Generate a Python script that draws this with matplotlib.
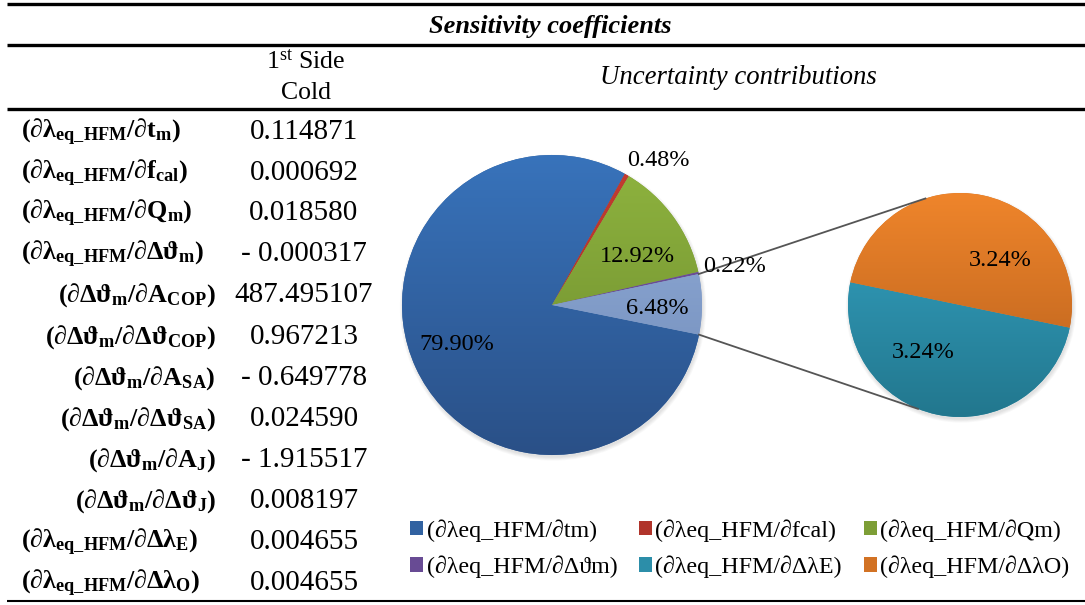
import numpy as np
import matplotlib
matplotlib.use("Agg")
import matplotlib.pyplot as plt
from matplotlib.patches import Patch, Circle
from matplotlib.colors import to_rgb

plt.rcParams['font.family'] = ['Liberation Serif', 'DejaVu Serif']
plt.rcParams['mathtext.fontset'] = 'custom'
plt.rcParams['mathtext.rm'] = 'Liberation Serif'
plt.rcParams['mathtext.it'] = 'Liberation Serif:italic'
plt.rcParams['mathtext.bf'] = 'Liberation Serif:bold'

W, H = 1085, 605

# sensitivity coefficients, 1st side cold
coef_labels = [
    r'$\mathbf{(\partial\lambda_{eq\_HFM}/\partial t_{m})}$',
    r'$\mathbf{(\partial\lambda_{eq\_HFM}/\partial f_{cal})}$',
    r'$\mathbf{(\partial\lambda_{eq\_HFM}/\partial Q_{m})}$',
    r'$\mathbf{(\partial\lambda_{eq\_HFM}/\partial\Delta\vartheta_{m})}$',
    r'$\mathbf{(\partial\Delta\vartheta_{m}/\partial A_{COP})}$',
    r'$\mathbf{(\partial\Delta\vartheta_{m}/\partial\Delta\vartheta_{COP})}$',
    r'$\mathbf{(\partial\Delta\vartheta_{m}/\partial A_{SA})}$',
    r'$\mathbf{(\partial\Delta\vartheta_{m}/\partial\Delta\vartheta_{SA})}$',
    r'$\mathbf{(\partial\Delta\vartheta_{m}/\partial A_{J})}$',
    r'$\mathbf{(\partial\Delta\vartheta_{m}/\partial\Delta\vartheta_{J})}$',
    r'$\mathbf{(\partial\lambda_{eq\_HFM}/\partial\Delta\lambda_{E})}$',
    r'$\mathbf{(\partial\lambda_{eq\_HFM}/\partial\Delta\lambda_{O})}$',
]
coef_values = [0.114871, 0.000692, 0.018580, -0.000317, 487.495107, 0.967213,
               -0.649778, 0.024590, -1.915517, 0.008197, 0.004655, 0.004655]
# the Δϑ sub-coefficients are indented (right aligned)
coef_indent = [False] * 4 + [True] * 6 + [False] * 2

# uncertainty contributions (%)
contrib_names = ['(∂λeq_HFM/∂tm)', '(∂λeq_HFM/∂fcal)', '(∂λeq_HFM/∂Qm)',
                 '(∂λeq_HFM/∂Δϑm)', '(∂λeq_HFM/∂ΔλE)', '(∂λeq_HFM/∂ΔλO)']
contrib_pct = [79.90, 0.48, 12.92, 0.22, 3.24, 3.24]

# (top, bottom) gradient colours per contribution
shades = [('#3873bb', '#2a5087'), ('#c43d32', '#9c2b24'), ('#8fb43f', '#6a882c'),
          ('#7656a6', '#5a3f82'), ('#35a4c4', '#22778e'), ('#ef852b', '#b45e1c')]
other_shade = ('#95b0dd', '#6d88b4')


def Y(y):
    # image rows run downwards, axes y runs upwards
    return H - y


def mix(a, b):
    a, b = np.array(to_rgb(a)), np.array(to_rgb(b))
    return tuple((a + b) / 2)


def shade(ax, wedge, cx, cy, r, top, bottom):
    t = np.linspace(0, 1, 256)[:, None]
    c0, c1 = np.array(to_rgb(top)), np.array(to_rgb(bottom))
    img = (c0 * (1 - t) + c1 * t)[:, None, :]
    im = ax.imshow(img, extent=(cx - r, cx + r, cy - r, cy + r), origin='upper',
                   aspect='auto', interpolation='bilinear', zorder=2)
    im.set_clip_path(wedge)


def soft_shadow(ax, cx, cy, r):
    for k in range(5):
        ax.add_patch(Circle((cx + 1, cy - 2.5), r + k * 0.8, color='black',
                            alpha=0.025, lw=0, zorder=1))


fig = plt.figure(figsize=(W / 100, H / 100), dpi=100)
ax = fig.add_axes([0, 0, 1, 1])

# table rules
for y, lw in [(3.5, 2.4), (44.5, 2.4), (108.5, 2.4), (601, 1.5)]:
    ax.plot([7, W], [Y(y), Y(y)], color='black', lw=lw, solid_capstyle='butt')

ax.text(550, Y(26), 'Sensitivity coefficients', ha='center', va='center',
        fontsize=19, fontweight='bold', fontstyle='italic')
ax.text(306, Y(62), r'1$^{\mathrm{st}}$ Side', ha='center', va='center', fontsize=18.5)
ax.text(306, Y(93), 'Cold', ha='center', va='center', fontsize=18.5)
ax.text(738, Y(77), 'Uncertainty contributions', ha='center', va='center',
        fontsize=19.3, fontstyle='italic')

row_y = [132, 173, 213, 254, 295, 337, 378, 419, 460, 501, 542, 583]
for lab, val, ind, y in zip(coef_labels, coef_values, coef_indent, row_y):
    if ind:
        ax.text(216, Y(y), lab, ha='right', va='center', fontsize=18.8)
    else:
        ax.text(21, Y(y), lab, ha='left', va='center', fontsize=18.8)
    s = f'- {abs(val):.6f}' if val < 0 else f'{val:.6f}'
    ax.text(304, Y(y), s, ha='center', va='center', fontsize=21)

# main pie: the two ΔλE / ΔλO contributions are grouped as one slice
main_vals = contrib_pct[:4] + [sum(contrib_pct[4:])]
main_shades = shades[:4] + [other_shade]
mc, mr = (552, Y(305)), 150
soft_shadow(ax, mc[0], mc[1], mr)
main_wedges, _ = ax.pie(main_vals, colors=[mix(*s) for s in main_shades],
                        startangle=-11.4, counterclock=False, center=mc, radius=mr,
                        wedgeprops=dict(linewidth=0), frame=True)
for w, s in zip(main_wedges, main_shades):
    shade(ax, w, mc[0], mc[1], mr, *s)

# secondary pie with the split of the grouped slice
sc, sr = (960, Y(305)), 112
soft_shadow(ax, sc[0], sc[1], sr)
sec_wedges, _ = ax.pie(contrib_pct[4:], colors=[mix(*s) for s in shades[4:]],
                       startangle=168.3, counterclock=True, center=sc, radius=sr,
                       wedgeprops=dict(linewidth=0), frame=True)
for w, s in zip(sec_wedges, shades[4:]):
    shade(ax, w, sc[0], sc[1], sr, *s)

# connector lines between the grouped slice and the secondary pie
ow = main_wedges[-1]
for th_main, th_sec in [(ow.theta2, 108), (ow.theta1, 248)]:
    a, b = np.radians(th_main), np.radians(th_sec)
    ax.plot([mc[0] + mr * np.cos(a), sc[0] + sr * np.cos(b)],
            [mc[1] + mr * np.sin(a), sc[1] + sr * np.sin(b)],
            color='#555555', lw=1.3, zorder=3)

# percentage labels
main_lab_pos = [(457, 345), (658, 160), (637, 257), (735, 267), (657, 308)]
for v, (x, y) in zip(main_vals, main_lab_pos):
    ax.text(x, Y(y), f'{v:.2f}%', ha='center', va='center', fontsize=17.5, zorder=4)
sec_lab_pos = [(923, 353), (1000, 260)]
for v, (x, y) in zip(contrib_pct[4:], sec_lab_pos):
    ax.text(x, Y(y), f'{v:.2f}%', ha='center', va='center', fontsize=17.5, zorder=4)

# legend, filled row by row
handles = [Patch(facecolor=mix(*s), edgecolor='none') for s in shades]
order = [0, 3, 1, 4, 2, 5]
ax.legend([handles[i] for i in order], [contrib_names[i] for i in order],
          ncol=3, loc='upper left', bbox_to_anchor=(410 / W, 1 - 519 / H),
          frameon=False, fontsize=17.3, handlelength=0.56, handleheight=0.56,
          handletextpad=0.13, columnspacing=0.9, labelspacing=0.58,
          borderaxespad=0, borderpad=0)

ax.set_xlim(0, W)
ax.set_ylim(0, H)
ax.set_aspect('auto')
ax.axis('off')

fig.savefig('out.png', dpi=100)
